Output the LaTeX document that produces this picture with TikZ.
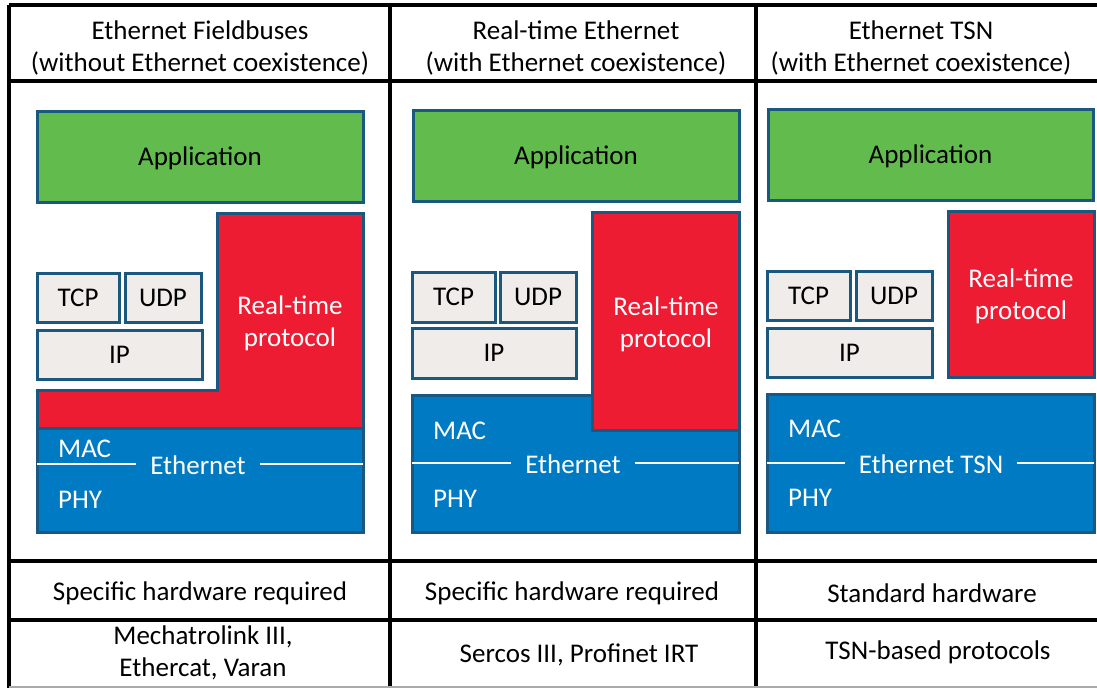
\documentclass[tikz,border=0pt]{standalone}
\usepackage{fontspec}
\setmainfont{Carlito}
\definecolor{appgreen}{RGB}{98,187,77}
\definecolor{rtred}{RGB}{237,28,50}
\definecolor{ethblue}{RGB}{0,122,194}
\definecolor{boxedge}{RGB}{26,88,128}
\definecolor{stackgray}{RGB}{239,236,233}
\definecolor{bottomgray}{RGB}{170,170,170}
\begin{document}
\begin{tikzpicture}[x=1pt,y=-1pt,
  every node/.style={font=\fontsize{27}{32}\selectfont},
  box/.style={draw=boxedge,line width=3pt,rectangle,inner sep=0pt,outer sep=0pt},
  appbox/.style={box,fill=appgreen,text=black,text depth=0pt},
  rtbox/.style={box,fill=rtred},
  rtlbl/.style={text=white,align=center,inner sep=0pt},
  ipbox/.style={box,fill=stackgray,text=black},
  ethbox/.style={box,fill=ethblue},
  wtext/.style={text=white,inner sep=0pt},
  ethlbl/.style={text=white,inner xsep=14pt,inner ysep=0pt},
  divider/.style={draw=white,line width=1.3pt},
  grid/.style={draw=black,line width=3.5pt},
  celltext/.style={align=center,text=black}]
\useasboundingbox (0,0) rectangle (1097,688);
\fill[white] (0,0) rectangle (1097,688);

% ---------- table grid ----------
\draw[grid] (9,5) -- (1097,5);
\draw[grid] (9,81) -- (1097,81);
\draw[grid] (9,561) -- (1097,561);
\draw[grid] (9,620) -- (1097,620);
\draw[grid] (9,5) -- (9,688);
\draw[grid] (390,5) -- (390,688);
\draw[grid] (756,5) -- (756,688);
\draw[draw=bottomgray,line width=1.2pt] (9,687) -- (1097,687);

% ---------- headers ----------
\node[celltext] (h1) at (200,48) {Ethernet Fieldbuses\\(without Ethernet coexistence)};
\node[celltext] (h2) at (576,48) {Real-time Ethernet\\(with Ethernet coexistence)};
\node[celltext] (h3) at (921,48) {Ethernet TSN\\(with Ethernet coexistence)};

% ---------- row 2 ----------
\node[celltext] (r1) at (200,593) {Specific hardware required};
\node[celltext] (r2) at (572,593) {Specific hardware required};
\node[celltext] (r3) at (932,593) {Standard hardware};

% ---------- row 3 ----------
\node[celltext] (p1) at (203,653) {Mechatrolink III,\\Ethercat, Varan};
\node[celltext] (p2) at (579,655) {Sercos III, Profinet IRT};
\node[celltext] (p3) at (938,652) {TSN-based protocols};

% ---------- column 1 ----------
\node[appbox,minimum width=326pt,minimum height=91pt] (app1) at (200,156.5) {Application};
\node[ipbox,minimum width=82pt,minimum height=49pt] (tcp1) at (78,297.5) {TCP};
\node[ipbox,minimum width=76pt,minimum height=49pt] (udp1) at (163,297.5) {UDP};
\node[ipbox,minimum width=165pt,minimum height=49pt] (ip1) at (119.5,354.5) {IP};
\node[ethbox,minimum width=326pt,minimum height=137pt] (eth1) at (200,463.5) {};
\draw[box,fill=rtred] (217,213) -- (363,213) -- (363,428) -- (37,428) -- (37,390) -- (217,390) -- cycle;
\node[rtlbl] (rt1) at (290,323) {Real-time\\protocol};
\node[ethlbl] (el1) at (198,465) {Ethernet};
\draw[divider] (eth1.west |- 0,464) -- (el1.west |- 0,464);
\draw[divider] (el1.east |- 0,464) -- (eth1.east |- 0,464);
\node[wtext,anchor=west] (mac1) at (58,449) {MAC};
\node[wtext,anchor=west] (phy1) at (58,500) {PHY};

% ---------- column 2 ----------
\node[appbox,minimum width=326pt,minimum height=91pt] (app2) at (576,155.5) {Application};
\node[ipbox,minimum width=83pt,minimum height=50pt] (tcp2) at (453.5,297) {TCP};
\node[ipbox,minimum width=76pt,minimum height=50pt] (udp2) at (538,297) {UDP};
\node[ipbox,minimum width=164pt,minimum height=50pt] (ip2) at (494,353) {IP};
\node[ethbox,minimum width=327pt,minimum height=137pt] (eth2) at (575.5,463.5) {};
\node[ethlbl] (el2) at (573,464) {Ethernet};
\draw[divider] (eth2.west |- 0,463) -- (el2.west |- 0,463);
\draw[divider] (el2.east |- 0,463) -- (eth2.east |- 0,463);
\node[wtext,anchor=west] (mac2) at (433,431) {MAC};
\node[wtext,anchor=west] (phy2) at (433,499) {PHY};
\node[rtbox,minimum width=147pt,minimum height=218pt] (rt2) at (665.5,321) {};
\node[rtlbl] (rt2t) at (666,324) {Real-time\\protocol};

% ---------- column 3 ----------
\node[appbox,minimum width=325pt,minimum height=91pt] (app3) at (930.5,154.5) {Application};
\node[rtbox,minimum width=146pt,minimum height=166pt] (rt3) at (1021,294) {};
\node[rtlbl] (rt3t) at (1021,296) {Real-time\\protocol};
\node[ipbox,minimum width=83pt,minimum height=49pt] (tcp3) at (808.5,295.5) {TCP};
\node[ipbox,minimum width=76pt,minimum height=49pt] (udp3) at (894,295.5) {UDP};
\node[ipbox,minimum width=165pt,minimum height=49pt] (ip3) at (849.5,352.5) {IP};
\node[ethbox,minimum width=327pt,minimum height=138pt] (eth3) at (930.5,463) {};
\node[ethlbl] (el3) at (931,464) {Ethernet TSN};
\draw[divider] (eth3.west |- 0,463) -- (el3.west |- 0,463);
\draw[divider] (el3.east |- 0,463) -- (eth3.east |- 0,463);
\node[wtext,anchor=west] (mac3) at (788,429) {MAC};
\node[wtext,anchor=west] (phy3) at (788,498) {PHY};
\end{tikzpicture}
\end{document}
